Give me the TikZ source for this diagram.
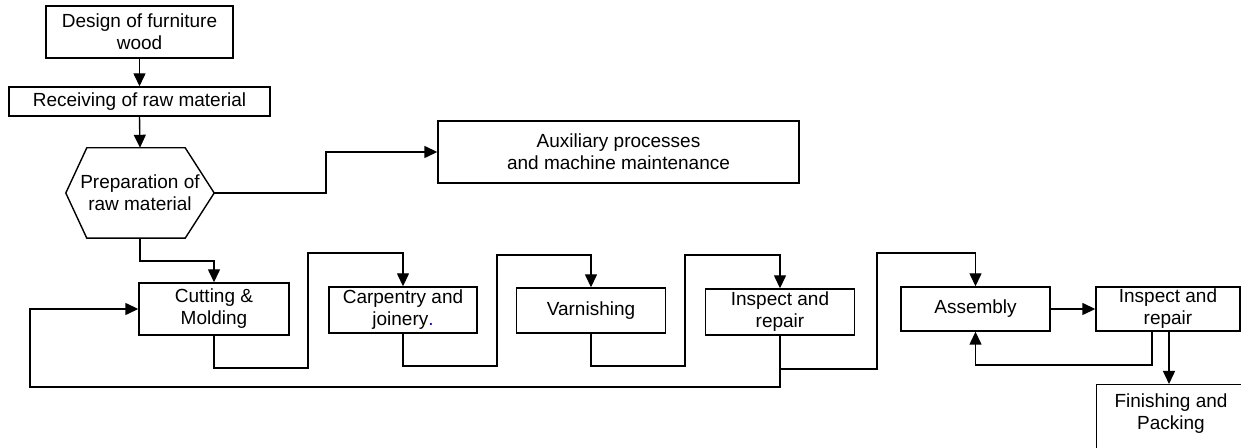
\documentclass[tikz,border=0pt]{standalone}
\usepackage{fontspec}
\setmainfont{Liberation Sans}
\usetikzlibrary{arrows.meta}
\begin{document}
\begin{tikzpicture}[x=1bp,y=-1bp,
  box/.style={draw, line width=1.4bp, inner sep=0pt, align=center,
    font=\fontsize{19bp}{22bp}\selectfont},
  txt/.style={inner sep=0pt, align=center, font=\fontsize{19bp}{22bp}\selectfont},
  conn/.style={line width=1.4bp},
  arr/.style={line width=1.4bp, -{Triangle[length=13bp,width=12bp]}}]
\useasboundingbox (0,0) rectangle (1241,448);
% nodes
\node[box, minimum width=187bp, minimum height=52bp] (design) at (139.5,32) {Design of furniture\\wood};
\node[box, minimum width=261bp, minimum height=29bp] (recv) at (139.5,101.5) {Receiving of raw material};
\node[txt, minimum width=148bp, minimum height=90bp] (prep) at (140,193) {Preparation of\\raw material};
\draw[conn] ([xshift=21bp]prep.north west) -- ([xshift=-29bp]prep.north east) -- (prep.east)
  -- ([xshift=-29bp]prep.south east) -- ([xshift=21bp]prep.south west) -- (prep.west) -- cycle;
\node[box, minimum width=361bp, minimum height=62bp] (aux) at (618.5,152) {Auxiliary processes\\and machine maintenance};
\node[box, minimum width=150bp, minimum height=52bp] (cut) at (214,309) {Cutting \&\\Molding};
\node[box, minimum width=148bp, minimum height=46bp] (carp) at (403,310) {Carpentry and\\joinery{\color{blue}.}};
\node[box, minimum width=149bp, minimum height=45bp] (varn) at (591,310.5) {Varnishing};
\node[box, minimum width=149bp, minimum height=46bp] (insp) at (780,312) {Inspect and\\repair};
\node[box, minimum width=149bp, minimum height=44bp] (asm) at (975.5,309) {Assembly};
\node[box, minimum width=144bp, minimum height=44bp] (insp2) at (1168,309) {Inspect and\\repair};
\node[box, minimum width=150bp, minimum height=72bp, anchor=north west] (fin) at (1096,384) {};
\node[txt] (fintxt) at (1171,414) {Finishing and\\Packing};
% connectors
\draw[arr] (design.south) -- (recv.north);
\draw[arr] (recv.south) -- (prep.north);
\draw[arr] (prep.east) -- (326,193) |- (aux.west);
\draw[arr] (prep.south) -- (140,261) -| (cut.north);
\draw[arr] (cut.south) |- (308,368) |- (403,253) -- (carp.north);
\draw[arr] (carp.south) |- (497,366) |- (591,255) -- (varn.north);
\draw[arr] (varn.south) |- (685,366) |- (780,255) -- (insp.north);
\coordinate (split) at (780,369);
\draw[arr] (insp.south) |- (30,387) |- (cut.west);
\draw[arr] (split) -- (877,369) |- (975.5,253) -- (asm.north);
\draw[arr] (asm.east) -- (insp2.west);
\coordinate (i2a) at (1152,331);
\coordinate (i2b) at (1169,331);
\draw[arr] (i2a) |- (975.5,365) -- (asm.south);
\draw[arr] (i2b) -- (fin.north -| i2b);
\end{tikzpicture}
\end{document}
